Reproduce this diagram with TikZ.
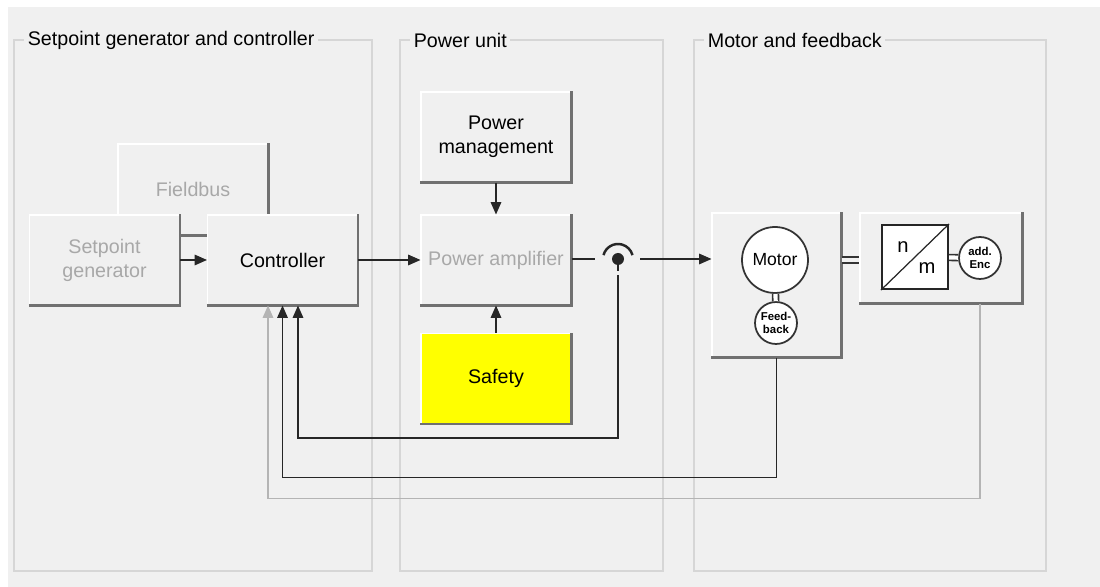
\documentclass[tikz,border=0pt]{standalone}
\usepackage{fontspec}
\setmainfont{Liberation Sans}
\usetikzlibrary{arrows.meta}
\definecolor{bg}{HTML}{F0F0F0}
\definecolor{framegray}{HTML}{D6D6D6}
\definecolor{shadowgray}{HTML}{707070}
\definecolor{dimtext}{HTML}{A8A8A8}
\definecolor{dimline}{HTML}{B4B4B4}
\definecolor{safetyyellow}{HTML}{FFFF00}

\begin{document}
\begin{tikzpicture}[x=0.02cm, y=-0.02cm,
    box/.style={draw=white, line width=0.6pt, fill=bg, minimum width=3cm, minimum height=1.8cm,
      inner sep=0pt, align=center, font=\fontsize{11.2}{13.6}\selectfont},
    dim/.style={text=dimtext},
    shade/.style={draw=shadowgray, line width=1.6pt},
    frame/.style={draw=framegray, line width=0.8pt},
    title/.style={fill=bg, inner xsep=2pt, inner ysep=1pt, anchor=west, font=\fontsize{11.2}{13.6}\selectfont},
    conn/.style={draw=black!85, line width=0.7pt},
    arr/.style={conn, -{Triangle[length=7pt,width=6pt]}},
    disc/.style={circle, draw=black!80, line width=1pt, fill=white, inner sep=0pt, align=center},
    tiny/.style={font=\bfseries\fontsize{6.5}{7}\selectfont},
    twin/.style={draw=black!80, line width=0.9pt, double=white, double distance=2.4pt}
  ]
  % background and groups
  \fill[white] (0,0) rectangle (1100,587);
  \fill[bg] (8,7) rectangle (1100,587);
  \draw[frame] (14,40) rectangle (372,571);
  \draw[frame] (400,40) rectangle (663,571);
  \draw[frame] (694,40) rectangle (1046,571);
  \node[title] (gctrl) at (24,40) {Setpoint generator and controller};
  \node[title] (gpower) at (410,40) {Power unit};
  \node[title] (gmotor) at (704,40) {Motor and feedback};

  % blocks
  \node[box, dim, minimum height=1.82cm] (fieldbus) at (193,189.5) {Fieldbus};
  \draw[shade] (fieldbus.south west) -| (fieldbus.north east);
  \node[box, dim] (setpoint) at (104.5,260) {Setpoint\\generator};
  \node[box] (controller) at (282.5,260) {Controller};
  \node[box] (powman) at (496,137) {Power\\management};
  \node[box, dim] (poweramp) at (496,260) {Power amplifier};
  \node[box, fill=safetyyellow] (safety) at (496,378.5) {Safety};
  \node[box, minimum width=2.58cm, minimum height=2.88cm] (motorbox) at (776.5,285) {};
  \node[box, minimum width=3.24cm] (encbox) at (941,258) {};
  \foreach \n in {setpoint, controller, powman, poweramp, safety, motorbox, encbox}
    \draw[shade] (\n.south west) -| (\n.north east);

  % motor side
  \node[disc, minimum size=1.32cm, font=\fontsize{10}{12}\selectfont] (motor) at (775,260) {Motor};
  \node[disc, tiny, minimum size=0.84cm] (feedback) at (776,323) {Feed-\\back};
  \draw[twin] (motor) -- (feedback);
  \node[draw=black!85, line width=1.2pt, fill=white, minimum width=1.32cm, minimum height=1.28cm,
    inner sep=0pt] (ratio) at (915,257) {};
  \draw[conn] (ratio.south west) -- (ratio.north east);
  \node[font=\fontsize{11.5}{13}\selectfont] (nlabel) at (903,247) {n};
  \node[font=\fontsize{11.5}{13}\selectfont] (mlabel) at (927,268) {m};
  \node[disc, tiny, minimum size=0.84cm] (addenc) at (980,258) {add.\\Enc};
  \draw[twin] (ratio) -- (addenc);
  \draw[twin, double=bg] (motorbox.east |- motor) -- (encbox.west |- motor);

  % measuring point
  \node[circle, fill=black!85, minimum size=0.24cm, inner sep=0pt] (sensor) at (618,259) {};
  \draw[conn, line width=1.4pt] ([shift={(165:0.3cm)}]sensor.center) arc[start angle=165, end angle=15, radius=0.3cm];
  \draw[conn, line width=1pt] (sensor.south) -- ++(0,6);
  \coordinate (ampout) at (595,259);
  \coordinate (senseout) at (640,259);
  \coordinate (fbtap) at (618,275);

  % signal flow
  \draw[arr] (setpoint) -- (controller);
  \draw[arr] (controller) -- (poweramp);
  \draw[arr] (powman) -- (poweramp);
  \draw[arr] (safety) -- (poweramp);
  \draw[conn] (poweramp.east |- ampout) -- (ampout);
  \draw[arr] (senseout) -- (senseout -| motorbox.west);
  \draw[arr, draw=dimline] (addenc |- encbox.south) -- ++(0,195) -| ([xshift=-0.29cm]controller.south);
  \draw[arr] (motorbox.south) -- ++(0,120) -| (controller.south);
  \draw[arr] (fbtap) -- ++(0,163) -| ([xshift=0.31cm]controller.south);
\end{tikzpicture}
\end{document}
